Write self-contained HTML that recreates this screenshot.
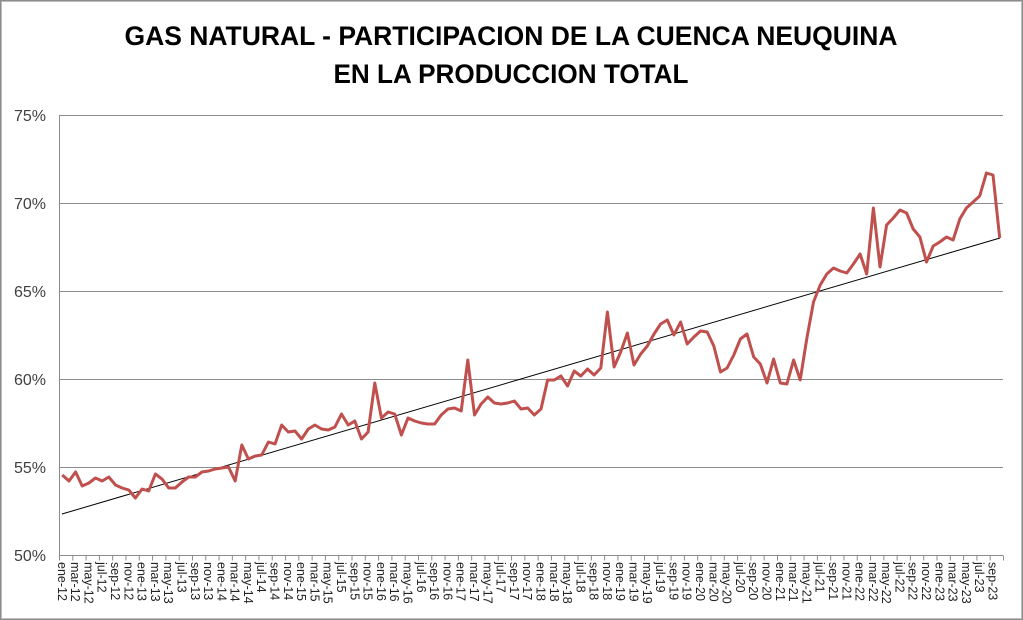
<!DOCTYPE html>
<html><head><meta charset="utf-8"><style>
html,body{margin:0;padding:0;background:#fff}
svg{display:block}
</style></head><body>
<svg width="1023" height="620" xmlns="http://www.w3.org/2000/svg" font-family="Liberation Sans, sans-serif">
<rect x="0.5" y="0.5" width="1022" height="619" fill="#fff" stroke="#8c8c8c" stroke-width="1"/>
<rect x="1.5" y="1.5" width="1020" height="617" fill="none" stroke="#bdbdbd" stroke-width="1"/>
<text x="511" y="45" text-anchor="middle" font-size="27" font-weight="bold" textLength="773" lengthAdjust="spacingAndGlyphs">GAS NATURAL - PARTICIPACION DE LA CUENCA NEUQUINA</text>
<text x="511" y="83" text-anchor="middle" font-size="27" font-weight="bold" textLength="355" lengthAdjust="spacingAndGlyphs">EN LA PRODUCCION TOTAL</text>
<g stroke="#8c8c8c" stroke-width="1">
<line x1="59" y1="115.5" x2="1003" y2="115.5"/>
<line x1="59" y1="203.5" x2="1003" y2="203.5"/>
<line x1="59" y1="291.5" x2="1003" y2="291.5"/>
<line x1="59" y1="379.5" x2="1003" y2="379.5"/>
<line x1="59" y1="467.5" x2="1003" y2="467.5"/>
<line x1="59" y1="555.5" x2="1003" y2="555.5"/>
<line x1="59.5" y1="115" x2="59.5" y2="560"/>
<line x1="59" y1="558" x2="1004" y2="558" stroke-width="5" stroke-dasharray="1 12.296"/>
</g>
<g font-size="16" fill="#404040" text-anchor="end">
<text x="46" y="121">75%</text><text x="46" y="209">70%</text><text x="46" y="297">65%</text>
<text x="46" y="385">60%</text><text x="46" y="473">55%</text><text x="46" y="561">50%</text>
</g>
<g font-size="12.5" fill="#222">
<text transform="translate(57.8,562) rotate(90)">ene-12</text>
<text transform="translate(71.1,562) rotate(90)">mar-12</text>
<text transform="translate(84.4,562) rotate(90)">may-12</text>
<text transform="translate(97.7,562) rotate(90)">jul-12</text>
<text transform="translate(111.0,562) rotate(90)">sep-12</text>
<text transform="translate(124.3,562) rotate(90)">nov-12</text>
<text transform="translate(137.6,562) rotate(90)">ene-13</text>
<text transform="translate(150.9,562) rotate(90)">mar-13</text>
<text transform="translate(164.2,562) rotate(90)">may-13</text>
<text transform="translate(177.5,562) rotate(90)">jul-13</text>
<text transform="translate(190.8,562) rotate(90)">sep-13</text>
<text transform="translate(204.1,562) rotate(90)">nov-13</text>
<text transform="translate(217.4,562) rotate(90)">ene-14</text>
<text transform="translate(230.7,562) rotate(90)">mar-14</text>
<text transform="translate(243.9,562) rotate(90)">may-14</text>
<text transform="translate(257.2,562) rotate(90)">jul-14</text>
<text transform="translate(270.5,562) rotate(90)">sep-14</text>
<text transform="translate(283.8,562) rotate(90)">nov-14</text>
<text transform="translate(297.1,562) rotate(90)">ene-15</text>
<text transform="translate(310.4,562) rotate(90)">mar-15</text>
<text transform="translate(323.7,562) rotate(90)">may-15</text>
<text transform="translate(337.0,562) rotate(90)">jul-15</text>
<text transform="translate(350.3,562) rotate(90)">sep-15</text>
<text transform="translate(363.6,562) rotate(90)">nov-15</text>
<text transform="translate(376.9,562) rotate(90)">ene-16</text>
<text transform="translate(390.2,562) rotate(90)">mar-16</text>
<text transform="translate(403.5,562) rotate(90)">may-16</text>
<text transform="translate(416.8,562) rotate(90)">jul-16</text>
<text transform="translate(430.1,562) rotate(90)">sep-16</text>
<text transform="translate(443.4,562) rotate(90)">nov-16</text>
<text transform="translate(456.7,562) rotate(90)">ene-17</text>
<text transform="translate(470.0,562) rotate(90)">mar-17</text>
<text transform="translate(483.3,562) rotate(90)">may-17</text>
<text transform="translate(496.6,562) rotate(90)">jul-17</text>
<text transform="translate(509.9,562) rotate(90)">sep-17</text>
<text transform="translate(523.2,562) rotate(90)">nov-17</text>
<text transform="translate(536.5,562) rotate(90)">ene-18</text>
<text transform="translate(549.8,562) rotate(90)">mar-18</text>
<text transform="translate(563.1,562) rotate(90)">may-18</text>
<text transform="translate(576.3,562) rotate(90)">jul-18</text>
<text transform="translate(589.6,562) rotate(90)">sep-18</text>
<text transform="translate(602.9,562) rotate(90)">nov-18</text>
<text transform="translate(616.2,562) rotate(90)">ene-19</text>
<text transform="translate(629.5,562) rotate(90)">mar-19</text>
<text transform="translate(642.8,562) rotate(90)">may-19</text>
<text transform="translate(656.1,562) rotate(90)">jul-19</text>
<text transform="translate(669.4,562) rotate(90)">sep-19</text>
<text transform="translate(682.7,562) rotate(90)">nov-19</text>
<text transform="translate(696.0,562) rotate(90)">ene-20</text>
<text transform="translate(709.3,562) rotate(90)">mar-20</text>
<text transform="translate(722.6,562) rotate(90)">may-20</text>
<text transform="translate(735.9,562) rotate(90)">jul-20</text>
<text transform="translate(749.2,562) rotate(90)">sep-20</text>
<text transform="translate(762.5,562) rotate(90)">nov-20</text>
<text transform="translate(775.8,562) rotate(90)">ene-21</text>
<text transform="translate(789.1,562) rotate(90)">mar-21</text>
<text transform="translate(802.4,562) rotate(90)">may-21</text>
<text transform="translate(815.7,562) rotate(90)">jul-21</text>
<text transform="translate(829.0,562) rotate(90)">sep-21</text>
<text transform="translate(842.3,562) rotate(90)">nov-21</text>
<text transform="translate(855.6,562) rotate(90)">ene-22</text>
<text transform="translate(868.9,562) rotate(90)">mar-22</text>
<text transform="translate(882.1,562) rotate(90)">may-22</text>
<text transform="translate(895.4,562) rotate(90)">jul-22</text>
<text transform="translate(908.7,562) rotate(90)">sep-22</text>
<text transform="translate(922.0,562) rotate(90)">nov-22</text>
<text transform="translate(935.3,562) rotate(90)">ene-23</text>
<text transform="translate(948.6,562) rotate(90)">mar-23</text>
<text transform="translate(961.9,562) rotate(90)">may-23</text>
<text transform="translate(975.2,562) rotate(90)">jul-23</text>
<text transform="translate(988.5,562) rotate(90)">sep-23</text>
</g>
<line x1="62" y1="514" x2="1000" y2="238" stroke="#000" stroke-width="1"/>
<polyline fill="none" stroke="#c0504d" stroke-width="3" stroke-linejoin="round" points="62.3,475 69.0,481 75.6,472 82.2,486 88.9,483 95.5,478 102.2,481 108.8,477 115.5,485 122.1,488 128.8,490 135.4,498 142.1,489 148.7,491 155.4,474 162.0,479 168.7,488 175.3,488 182.0,482 188.6,477 195.3,477 201.9,472 208.6,471 215.2,469 221.9,468 228.5,467 235.2,481 241.8,445 248.4,459 255.1,456 261.7,455 268.4,442 275.0,444 281.7,425 288.3,432 295.0,431 301.6,439 308.3,429 314.9,425 321.6,429 328.2,430 334.9,427 341.5,414 348.2,425 354.8,421 361.5,439 368.1,432 374.8,383 381.4,418 388.1,412 394.7,414 401.4,435 408.0,418 414.7,421 421.3,423 427.9,424 434.6,424 441.2,415 447.9,409 454.5,408 461.2,411 467.8,360 474.5,415 481.1,404 487.8,397 494.4,403 501.1,404 507.7,403 514.4,401 521.0,409 527.7,408 534.3,415 541.0,409 547.6,380 554.3,380 560.9,376 567.6,386 574.2,371 580.8,376 587.5,369 594.1,375 600.8,368 607.4,312 614.1,367 620.7,352 627.4,333 634.0,365 640.7,354 647.3,346 654.0,334 660.6,324 667.3,320 673.9,335 680.6,322 687.2,344 693.9,337 700.5,331 707.2,332 713.8,346 720.5,372 727.1,368 733.8,355 740.4,339 747.0,334 753.7,357 760.3,364 767.0,383 773.6,359 780.3,383 786.9,384 793.6,360 800.2,380 806.9,338 813.5,302 820.2,285 826.8,274 833.5,268 840.1,271 846.8,273 853.4,264 860.1,254 866.7,274 873.4,208 880.0,267 886.6,225 893.3,218 899.9,210 906.6,213 913.2,229 919.9,237 926.5,262 933.2,246 939.8,242 946.5,237 953.1,240 959.8,219 966.4,208 973.1,202 979.7,196 986.4,173 993.0,175 999.7,238"/>
</svg>
</body></html>
